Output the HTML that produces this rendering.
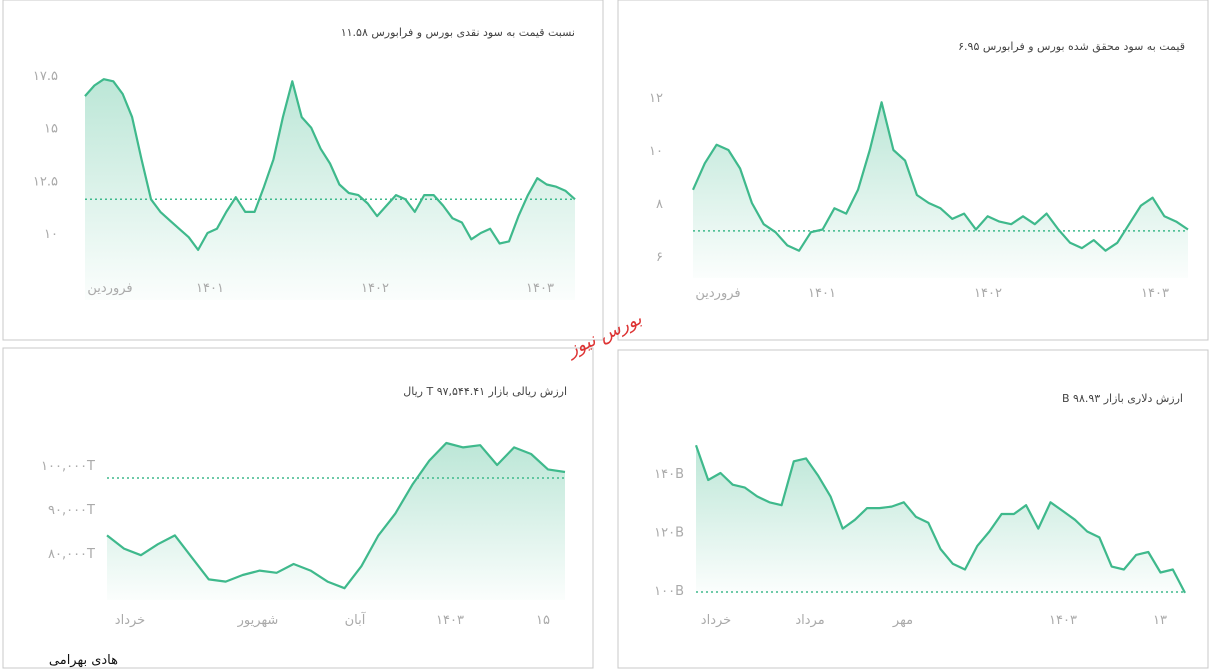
<!DOCTYPE html>
<html><head><meta charset="utf-8">
<style>
body{margin:0;width:1210px;height:672px;background:#fff;overflow:hidden;font-family:"DejaVu Sans","Liberation Sans",sans-serif;}
svg{position:absolute;left:0;top:0}
</style></head>
<body>
<svg id="c" width="1210" height="672" xmlns="http://www.w3.org/2000/svg">
<defs>
<linearGradient id="g" x1="0" y1="0" x2="0" y2="1"><stop offset="0" stop-color="#3fb98c" stop-opacity="0.35"/><stop offset="1" stop-color="#3fb98c" stop-opacity="0.02"/></linearGradient>
</defs>
<rect x="3" y="0" width="600" height="340" fill="#fff" stroke="#c8c8c8"/>
<rect x="618" y="0" width="590" height="340" fill="#fff" stroke="#c8c8c8"/>
<rect x="3" y="348" width="590" height="320" fill="#fff" stroke="#c8c8c8"/>
<rect x="618" y="350" width="590" height="318" fill="#fff" stroke="#c8c8c8"/>
</svg>
<script>
const pe1Values=[16.5,17.0,17.3,17.2,16.6,15.5,13.5,11.6,11.0,10.6,10.2,9.8,9.2,10.0,10.2,11.0,11.7,11.0,11.0,12.2,13.5,15.5,17.2,15.5,15.0,14.0,13.3,12.3,11.9,11.8,11.4,10.8,11.3,11.8,11.6,11.0,11.8,11.8,11.3,10.7,10.5,9.7,10.0,10.2,9.5,9.6,10.8,11.8,12.6,12.3,12.2,12.0,11.6];
const pe1Ticks=[10,12.5,15,17.5];const pe1TickLabels=["۱۰","۱۲.۵","۱۵","۱۷.۵"];
const pe1XLabels=["فروردین","۱۴۰۱","۱۴۰۲","۱۴۰۳"];
const pe2Values=[8.5,9.5,10.2,10.0,9.3,8.0,7.2,6.9,6.4,6.2,6.9,7.0,7.8,7.6,8.5,10.0,11.8,10.0,9.6,8.3,8.0,7.8,7.4,7.6,7.0,7.5,7.3,7.2,7.5,7.2,7.6,7.0,6.5,6.3,6.6,6.2,6.5,7.2,7.9,8.2,7.5,7.3,7.0];
const pe2Ticks=[6,8,10,12];const pe2TickLabels=["۶","۸","۱۰","۱۲"];
const pe2XLabels=["فروردین","۱۴۰۱","۱۴۰۲","۱۴۰۳"];
const rialValues=[84,81,79.5,82,84,79,74,73.5,75,76,75.5,77.5,76,73.5,72,77,84,89,95.5,101,105,104,104.5,100,104,102.5,99,98.4];
const rialTicks=[80,90,100];const rialTickLabels=["۸۰,۰۰۰T","۹۰,۰۰۰T","۱۰۰,۰۰۰T"];
const rialXLabels=["خرداد","شهریور","آبان","۱۴۰۳","۱۵"];
const usdValues=[149.5,137.6,140,136,135,132,130,129,144,145,139,132,121,124,128,128,128.5,130,125,123,114,109,107,115,120,126,126,129,121,130,127,124,120,118,108,107,112,113,106,107,99];
const usdTicks=[100,120,140];const usdTickLabels=["۱۰۰B","۱۲۰B","۱۴۰B"];
const usdXLabels=["خرداد","مرداد","مهر","۱۴۰۳","۱۳"];

const svg=document.getElementById('c');const NS='http://www.w3.org/2000/svg';
function mk(t,a,txt){const e=document.createElementNS(NS,t);for(const k in a)e.setAttribute(k,a[k]);if(txt!==undefined)e.textContent=txt;svg.appendChild(e);return e;}
function chart(o){
  const y=v=>o.y0+(v-o.v0)*(o.y1-o.y0)/(o.v1-o.v0);
  const x=i=>o.x0+i*(o.x1-o.x0)/(o.vals.length-1);
  let d='';o.vals.forEach((v,i)=>{d+=(i?'L':'M')+x(i).toFixed(1)+','+y(v).toFixed(1);});
  const a=mk('path',{d:d+'L'+o.x1+','+o.bottom+'L'+o.x0+','+o.bottom+'Z',fill:'url(#g)'});
  
  
  const bl=mk('line',{x1:o.x0,x2:o.x1,y1:y(o.base),y2:y(o.base),stroke:'#3fb98c','stroke-width':1.5,'stroke-dasharray':'2,3'});
  
  
  const l=mk('path',{d:d,fill:'none',stroke:'#3fb98c','stroke-width':2.2,'stroke-linejoin':'round'});
  
  
  o.ticks.forEach((t,i)=>{const e=mk('text',{x:o.tx,y:y(t)+5,'text-anchor':'end','font-size':13,fill:'#aaa'},o.tickLabels[i]);
    
    });
  o.xl.forEach((t,i)=>{const e=mk('text',{x:o.xlx[i],y:o.xly,'text-anchor':'middle','font-size':13,fill:'#aaa'},t);
    
    });
  const ti=mk('text',{x:o.tix,y:o.tiy,'text-anchor':'start','font-size':11,fill:'#444',direction:'rtl'},o.title);
  
  
}
chart({name:'pe-cash',vals:pe1Values,x0:85,x1:575,v0:17.5,y0:75,v1:10,y1:233,bottom:300,base:11.6,ticks:pe1Ticks,tickLabels:pe1TickLabels,tx:58,xl:pe1XLabels,xlx:[110,210,375,540],xly:292,title:'نسبت قیمت به سود نقدی بورس و فرابورس  ۱۱.۵۸',tix:575,tiy:36});
chart({name:'pe-realized',vals:pe2Values,x0:693,x1:1188,v0:12,y0:97,v1:6,y1:256,bottom:278,base:6.95,ticks:pe2Ticks,tickLabels:pe2TickLabels,tx:663,xl:pe2XLabels,xlx:[718,822,988,1155],xly:297,title:'قیمت به سود محقق شده بورس و فرابورس  ۶.۹۵',tix:1185,tiy:50});
chart({name:'rial-value',vals:rialValues,x0:107,x1:565,v0:100,y0:465,v1:80,y1:553,bottom:600,base:97.04,ticks:rialTicks,tickLabels:rialTickLabels,tx:95,xl:rialXLabels,xlx:[130,258,355,450,543],xly:624,title:'ارزش ریالی بازار  T ۹۷,۵۴۴.۴۱  ریال',tix:567,tiy:395});
chart({name:'dollar-value',vals:usdValues,x0:696,x1:1185,v0:140,y0:473,v1:100,y1:590,bottom:593,base:99.3,ticks:usdTicks,tickLabels:usdTickLabels,tx:684,xl:usdXLabels,xlx:[716,810,903,1063,1160],xly:624,title:'ارزش دلاری بازار  B ۹۸.۹۳',tix:1183,tiy:402});
const wm=mk('text',{x:605,y:340,'text-anchor':'middle','font-size':18,fill:'#d33',transform:'rotate(-25 605 335)','font-style':'italic'},'بورس نیوز');


const au=mk('text',{x:118,y:664,'text-anchor':'end','font-size':13,fill:'#111'},'هادی بهرامی');


</script>
</body></html>
